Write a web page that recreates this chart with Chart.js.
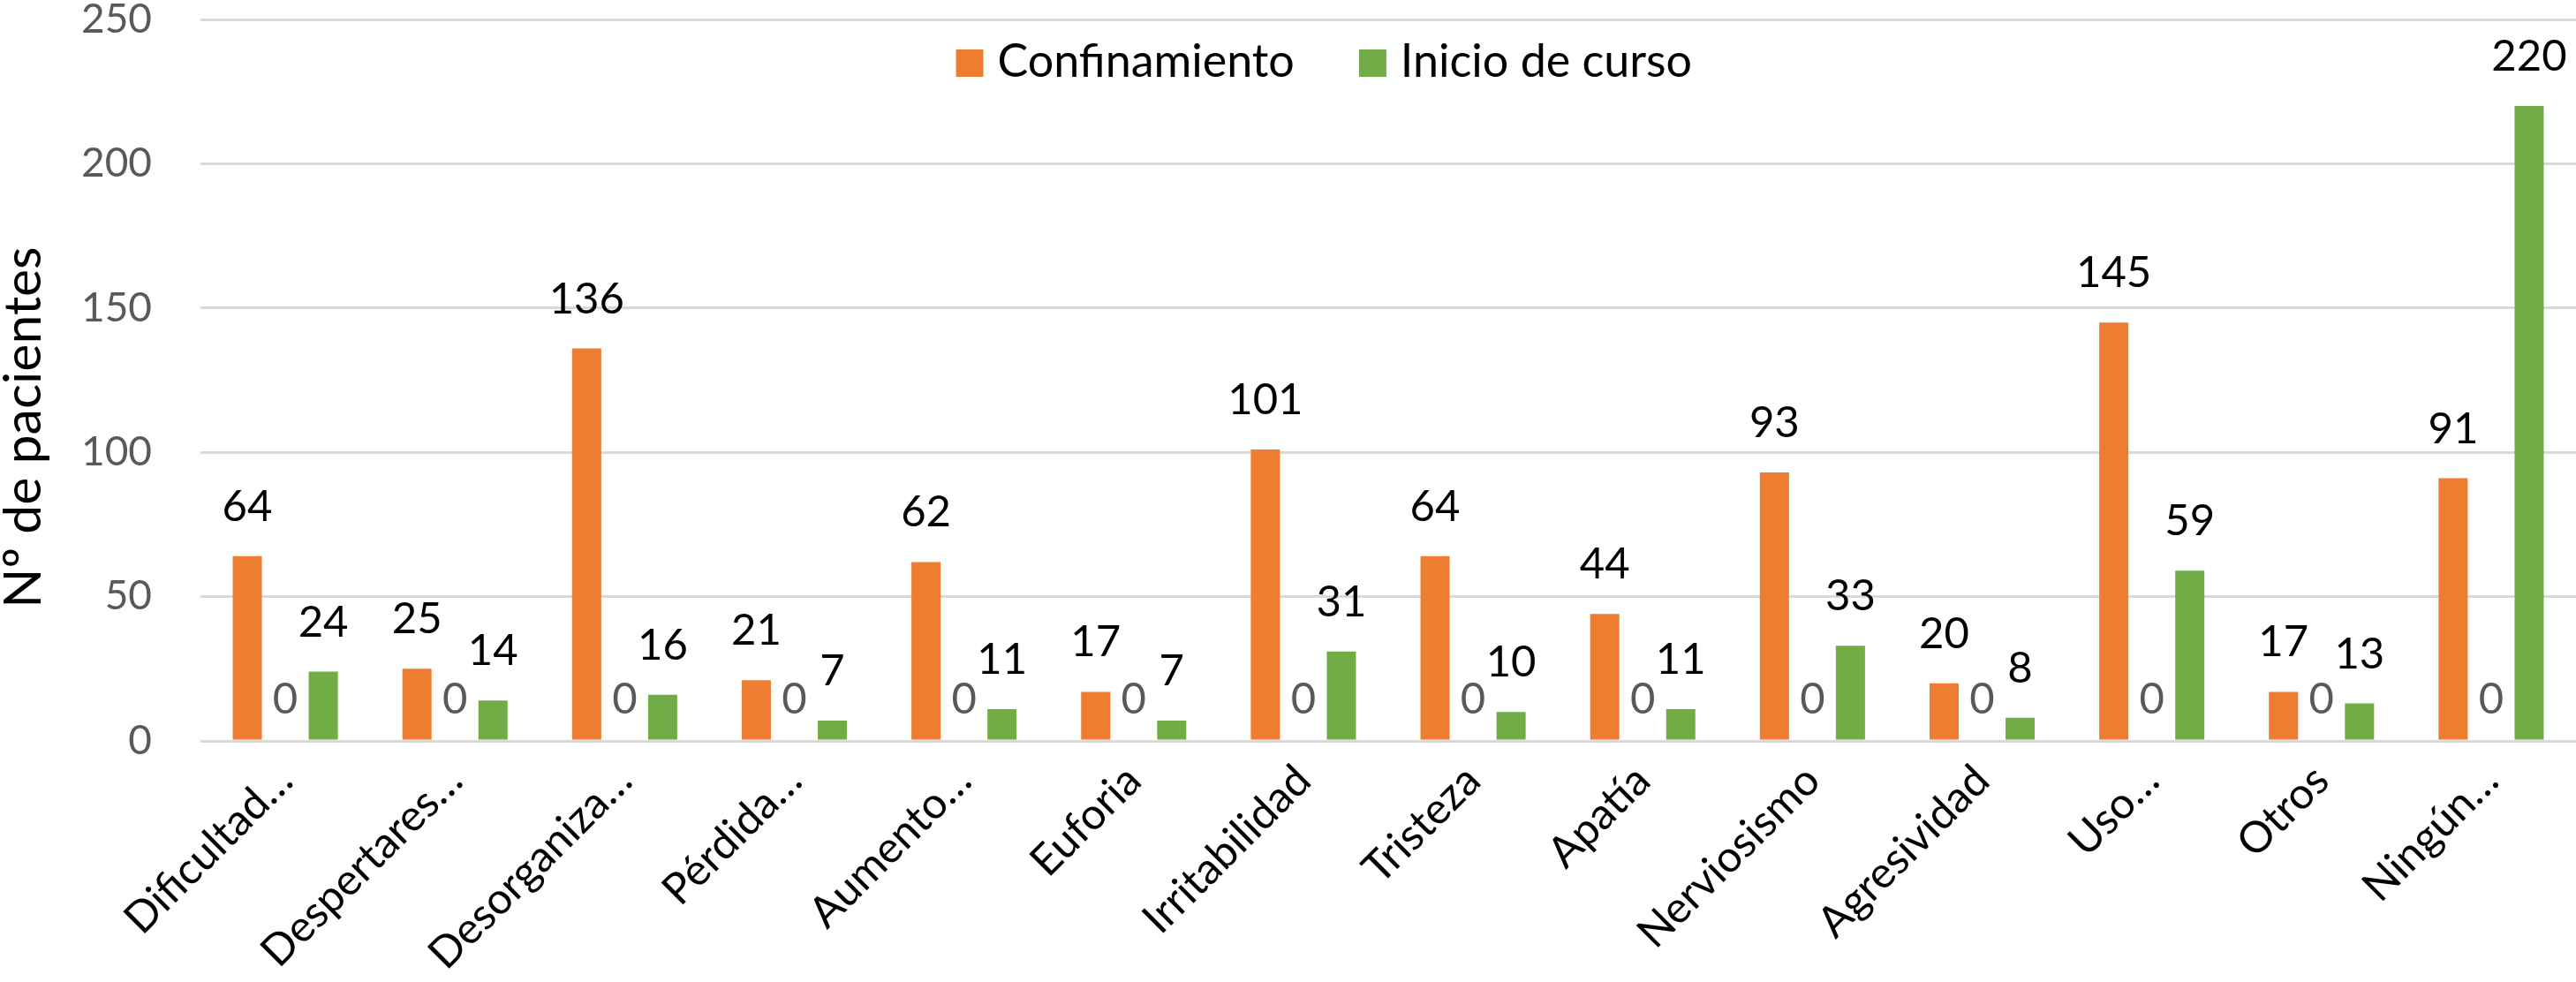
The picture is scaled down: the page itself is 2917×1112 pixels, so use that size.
<!DOCTYPE html>
<html lang="es">
<head>
<meta charset="utf-8">
<title>Nº de pacientes</title>
<script src="https://cdn.jsdelivr.net/npm/chart.js@4.4.1/dist/chart.umd.min.js"></script>
<style>
  html, body { margin: 0; padding: 0; background: #ffffff; overflow: hidden; }
  #wrap { width: 2917px; height: 1112px; }
  canvas { display: block; }
</style>
</head>
<body>
<div id="wrap"><canvas id="c" width="2917" height="1112"></canvas></div>
<script>
// ---- Data ----
const categories = ["Dificultad…", "Despertares…", "Desorganiza…", "Pérdida…", "Aumento…", "Euforia", "Irritabilidad", "Tristeza", "Apatía", "Nerviosismo", "Agresividad", "Uso…", "Otros", "Ningún…"];
const confinamiento = [64, 25, 136, 21, 62, 17, 101, 64, 44, 93, 20, 145, 17, 91];
const serieCero = [0, 0, 0, 0, 0, 0, 0, 0, 0, 0, 0, 0, 0, 0];
const inicioCurso = [24, 14, 16, 7, 11, 7, 31, 10, 11, 33, 8, 59, 13, 220];
const seriesNames = ["Confinamiento", "", "Inicio de curso"];
const yTicks = [0, 50, 100, 150, 200, 250];
const yTitle = "Nº de pacientes";

const FONT = "Lato, 'Noto Sans', sans-serif";
const ORANGE = "#ED7D31";
const GREEN = "#70AD47";

// Data labels drawn at each bar's end, using the library's element positions
const dataLabelPlugin = {
  id: "dataLabels",
  afterDatasetsDraw(chart) {
    const ctx = chart.ctx;
    ctx.save();
    ctx.font = "49px " + FONT;
    ctx.textAlign = "center";
    ctx.textBaseline = "alphabetic";
    chart.data.datasets.forEach((ds, di) => {
      const meta = chart.getDatasetMeta(di);
      meta.data.forEach((el, i) => {
        ctx.fillStyle = ds.labelColor;
        ctx.fillText(String(ds.data[i]), el.x, el.y - ds.labelOffset);
      });
    });
    ctx.restore();
  }
};

// Legend inside the plot area + rotated axis title
const legendTitlePlugin = {
  id: "legendTitle",
  afterDraw(chart) {
    const ctx = chart.ctx;
    ctx.save();
    // legend
    const items = chart.data.datasets.filter(d => d.inLegend);
    ctx.font = "52px " + FONT;
    const box = 31, gap = 16, itemGap = 73;
    let total = 0;
    items.forEach((d, k) => {
      total += box + gap + ctx.measureText(d.label).width + (k ? itemGap : 0);
    });
    let x = chart.width * 0.514 - total / 2;
    const boxTop = 56;
    ctx.textAlign = "left";
    ctx.textBaseline = "alphabetic";
    items.forEach(d => {
      ctx.fillStyle = d.backgroundColor;
      ctx.fillRect(x, boxTop, box, box);
      x += box + gap;
      ctx.fillStyle = "#000000";
      ctx.fillText(d.label, x, boxTop + box);
      x += ctx.measureText(d.label).width + itemGap;
    });
    // y axis title
    ctx.font = "59px " + FONT;
    ctx.fillStyle = "#000000";
    ctx.textAlign = "center";
    ctx.translate(46, 484);
    ctx.rotate(-Math.PI / 2);
    ctx.fillText(yTitle, 0, 0);
    ctx.restore();
  }
};

new Chart(document.getElementById("c"), {
  type: "bar",
  data: {
    labels: categories,
    datasets: [
      { label: seriesNames[0], data: confinamiento, backgroundColor: ORANGE, labelColor: "#000000", labelOffset: 40, inLegend: true },
      { label: seriesNames[1], data: serieCero, backgroundColor: "rgba(0,0,0,0)", labelColor: "#595959", labelOffset: 31, inLegend: false },
      { label: seriesNames[2], data: inicioCurso, backgroundColor: GREEN, labelColor: "#000000", labelOffset: 40, inLegend: true }
    ]
  },
  options: {
    responsive: false,
    animation: false,
    devicePixelRatio: 1,
    layout: { padding: { top: 22, right: 0, bottom: 0, left: 0 }, autoPadding: false },
    datasets: {
      bar: { categoryPercentage: 0.672, barPercentage: 0.767, borderWidth: 0 }
    },
    plugins: {
      legend: { display: false },
      tooltip: { enabled: false },
      title: { display: false }
    },
    scales: {
      x: {
        grid: { display: false, drawTicks: false },
        border: { display: false },
        ticks: {
          color: "#000000",
          font: { family: FONT, size: 49 },
          minRotation: 45,
          maxRotation: 45,
          autoSkip: false,
          padding: 16
        },
        afterFit(scale) {
          scale.height = 273;
          scale.paddingLeft = 0; scale.paddingRight = 0;
          scale.paddingTop = 0; scale.paddingBottom = 0;
        }
      },
      y: {
        min: yTicks[0],
        max: yTicks[yTicks.length - 1],
        afterBuildTicks(scale) { scale.ticks = yTicks.map(v => ({ value: v })); },
        grid: { color: "#D9D9D9", lineWidth: 3, drawTicks: false },
        border: { display: false },
        ticks: {
          color: "#595959",
          font: { family: FONT, size: 46 },
          padding: 55
        },
        afterFit(scale) {
          scale.width = 227;
          scale.paddingTop = 0; scale.paddingBottom = 0;
          scale.paddingLeft = 0; scale.paddingRight = 0;
        }
      }
    }
  },
  plugins: [dataLabelPlugin, legendTitlePlugin]
});
</script>
</body>
</html>
